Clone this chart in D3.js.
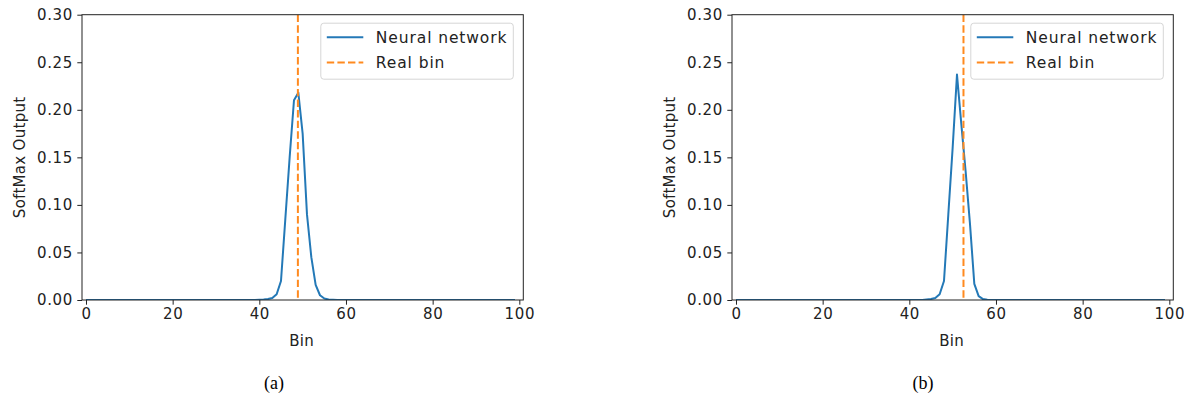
<!DOCTYPE html>
<html>
<head>
<meta charset="utf-8">
<script src="https://cdn.jsdelivr.net/npm/d3@7"></script>
<style>
  body { margin: 0; background: #fff; }
  svg { display: block; }
  .tick text { font-family: "DejaVu Sans", sans-serif; font-size: 15px; letter-spacing: 0.6px; fill: #222; }
  .tick line { stroke: #222; }
  .axis-label { font-family: "DejaVu Sans", sans-serif; font-size: 15px; letter-spacing: 0.3px; fill: #222; }
  .legend-text { font-family: "DejaVu Sans", sans-serif; font-size: 15.5px; letter-spacing: 0.9px; fill: #222; }
  .caption { font-family: "Liberation Serif", serif; font-size: 18px; fill: #000; }
</style>
</head>
<body>
<div id="chart"></div>
<script>
(() => {
  const width = 1184;
  const height = 397;

  // softmax output per bin
  const softmaxA = [
    0, 0, 0, 0, 0, 0, 0, 0, 0, 0,
    0, 0, 0, 0, 0, 0, 0, 0, 0, 0,
    0, 0, 0, 0, 0, 0, 0, 0, 0, 0,
    0, 0, 0, 0, 0, 0, 0, 0, 0, 0,
    0.0002, 0.0005, 0.001, 0.002, 0.006, 0.02, 0.085, 0.15, 0.21, 0.218,
    0.175, 0.09, 0.045, 0.016, 0.005, 0.0015, 0.0005, 0.0002, 0, 0,
    0, 0, 0, 0, 0, 0, 0, 0, 0, 0,
    0, 0, 0, 0, 0, 0, 0, 0, 0, 0,
    0, 0, 0, 0, 0, 0, 0, 0, 0, 0,
    0, 0, 0, 0, 0, 0, 0, 0, 0, 0
  ];
  const softmaxB = [
    0, 0, 0, 0, 0, 0, 0, 0, 0, 0,
    0, 0, 0, 0, 0, 0, 0, 0, 0, 0,
    0, 0, 0, 0, 0, 0, 0, 0, 0, 0,
    0, 0, 0, 0, 0, 0, 0, 0, 0, 0,
    0, 0, 0, 0, 0.0005, 0.001, 0.002, 0.006, 0.02, 0.09,
    0.16, 0.237, 0.185, 0.135, 0.08, 0.017, 0.004, 0.001, 0.0003, 0,
    0, 0, 0, 0, 0, 0, 0, 0, 0, 0,
    0, 0, 0, 0, 0, 0, 0, 0, 0, 0,
    0, 0, 0, 0, 0, 0, 0, 0, 0, 0,
    0, 0, 0, 0, 0, 0, 0, 0, 0, 0
  ];
  const realBinA = 48.9;
  const realBinB = 52.5;

  const xTicks = [0, 20, 40, 60, 80, 100];
  const yTicks = [0, 0.05, 0.10, 0.15, 0.20, 0.25, 0.30];
  const legendLabels = ['Neural network', 'Real bin'];
  const captions = ['(a)', '(b)'];

  const panels = [
    { values: softmaxA, realBin: realBinA, left: 82, caption: captions[0], captionX: 274 },
    { values: softmaxB, realBin: realBinB, left: 732, caption: captions[1], captionX: 923 }
  ];

  const plotW = 441.3;
  const plotTop = 14.7;
  const plotH = 285.3;
  const blue = '#2479b7';
  const orange = '#ff8a1f';

  const svg = d3.select('#chart').append('svg')
    .attr('width', width)
    .attr('height', height);

  panels.forEach(p => {
    const g = svg.append('g')
      .attr('transform', `translate(${p.left},${plotTop})`);

    const x = d3.scaleLinear().domain([-0.92, 100.92]).range([0, plotW]);
    const y = d3.scaleLinear().domain([0, 0.30]).range([plotH, 0]);

    g.append('defs').append('clipPath')
      .attr('id', `clip-${p.left}`)
      .append('rect')
      .attr('width', plotW)
      .attr('height', plotH);

    const plot = g.append('g').attr('clip-path', `url(#clip-${p.left})`);

    const line = d3.line()
      .x((d, i) => x(i))
      .y(d => y(d));

    plot.append('path')
      .datum(p.values)
      .attr('fill', 'none')
      .attr('stroke', blue)
      .attr('stroke-width', 2)
      .attr('stroke-linejoin', 'round')
      .attr('d', line);

    plot.append('line')
      .attr('x1', x(p.realBin))
      .attr('x2', x(p.realBin))
      .attr('y1', 0)
      .attr('y2', plotH)
      .attr('stroke', orange)
      .attr('stroke-width', 2)
      .attr('stroke-dasharray', '7.4,3.2');

    const xAxis = d3.axisBottom(x).tickValues(xTicks).tickSize(4.7).tickPadding(4).tickFormat(d3.format('d'));
    const yAxis = d3.axisLeft(y).tickValues(yTicks).tickSize(4.7).tickPadding(4.5).tickFormat(d3.format('.2f'));

    g.append('g')
      .attr('transform', `translate(0,${plotH})`)
      .call(xAxis)
      .call(a => a.select('.domain').remove());

    g.append('g')
      .call(yAxis)
      .call(a => a.select('.domain').remove());

    g.append('rect')
      .attr('width', plotW)
      .attr('height', plotH)
      .attr('fill', 'none')
      .attr('stroke', '#222')
      .attr('stroke-width', 1);

    g.append('text')
      .attr('class', 'axis-label')
      .attr('x', x(50) - 1)
      .attr('y', plotH + 46)
      .attr('text-anchor', 'middle')
      .text('Bin');

    g.append('text')
      .attr('class', 'axis-label')
      .attr('transform', `translate(${-57},${plotH / 2}) rotate(-90)`)
      .attr('text-anchor', 'middle')
      .text('SoftMax Output');

    // legend
    const legend = g.append('g')
      .attr('transform', `translate(${plotW - 202.5},${8.5})`);

    legend.append('rect')
      .attr('width', 192.5)
      .attr('height', 56)
      .attr('rx', 3)
      .attr('fill', '#fff')
      .attr('fill-opacity', 0.8)
      .attr('stroke', '#d6d6d6')
      .attr('stroke-width', 1);

    legendLabels.forEach((label, i) => {
      const ly = 14 + i * 25.4;
      legend.append('line')
        .attr('x1', 6)
        .attr('x2', 42.5)
        .attr('y1', ly)
        .attr('y2', ly)
        .attr('stroke', i === 0 ? blue : orange)
        .attr('stroke-width', 2)
        .attr('stroke-dasharray', i === 0 ? null : '7.4,3.2');
      legend.append('text')
        .attr('class', 'legend-text')
        .attr('x', 55)
        .attr('y', ly)
        .attr('dy', '0.36em')
        .text(label);
    });

    svg.append('text')
      .attr('class', 'caption')
      .attr('x', p.captionX)
      .attr('y', 383)
      .attr('dy', '0.35em')
      .attr('text-anchor', 'middle')
      .text(p.caption);
  });
})();
</script>
</body>
</html>
